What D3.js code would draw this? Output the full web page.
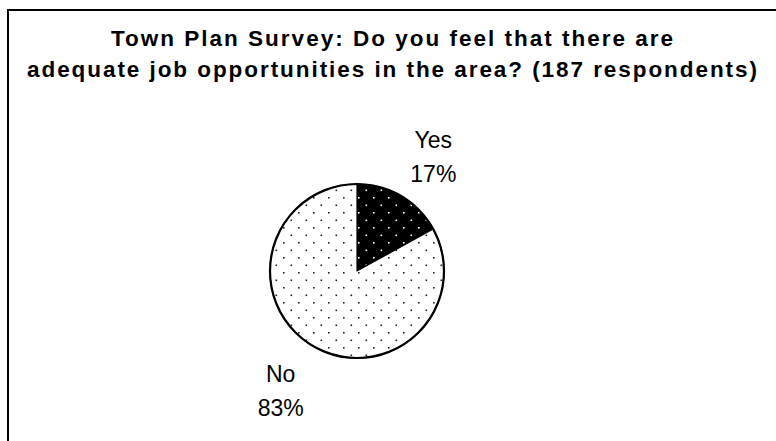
<!DOCTYPE html>
<html>
<head>
<meta charset="utf-8">
<script src="https://cdn.jsdelivr.net/npm/d3@7/dist/d3.min.js"></script>
<style>
  html, body { margin: 0; padding: 0; background: #fff; }
  svg { display: block; }
  text { font-family: "Liberation Sans", Arial, sans-serif; fill: #000; }
</style>
</head>
<body>
<script>
// Survey answers and their shares (percent of 187 respondents)
const categories = ["Yes", "No"];
const shares = [17, 83];
const titleLines = [
  "Town Plan Survey: Do you feel that there are",
  "adequate job opportunities in the area? (187 respondents)"
];

const W = 776, H = 441;
const svg = d3.select("body").append("svg")
  .attr("width", W).attr("height", H);

// Dotted fills: white dots on black for "Yes", dark dots on white for "No"
const defs = svg.append("defs");
function dotPattern(id, bg, dot) {
  const p = defs.append("pattern")
    .attr("id", id)
    .attr("patternUnits", "userSpaceOnUse")
    .attr("width", 15).attr("height", 15);
  p.append("rect").attr("width", 15).attr("height", 15).attr("fill", bg);
  p.append("rect").attr("x", 1).attr("y", 1).attr("width", 1.6).attr("height", 1.6).attr("fill", dot);
  p.append("rect").attr("x", 8.5).attr("y", 8.5).attr("width", 1.6).attr("height", 1.6).attr("fill", dot);
}
dotPattern("dotsDark", "#000", "#fff");
dotPattern("dotsLight", "#fff", "#222");
const fills = ["url(#dotsDark)", "url(#dotsLight)"];

// Chart frame
svg.append("rect")
  .attr("x", 8).attr("y", 10)
  .attr("width", W + 20).attr("height", H + 20)
  .attr("fill", "#fff")
  .attr("stroke", "#000").attr("stroke-width", 2);

// Title, spread to its line widths
const titleWidths = [562, 730];
const title = svg.append("text")
  .attr("text-anchor", "middle")
  .attr("font-weight", "bold")
  .attr("font-size", 22.5);
titleLines.forEach((t, i) => {
  title.append("tspan")
    .attr("x", 392)
    .attr("y", 46 + i * 31)
    .attr("textLength", titleWidths[i])
    .attr("lengthAdjust", "spacing")
    .text(t);
});

// Pie
const cx = 357, cy = 271, r = 87;
const data = categories.map((c, i) => ({ label: c, value: shares[i] }));
const pie = d3.pie().value(d => d.value).sort(null);
const arc = d3.arc().innerRadius(0).outerRadius(r);
const arcs = pie(data);

const g = svg.append("g").attr("transform", `translate(${cx},${cy})`);
g.selectAll("path.slice")
  .data(arcs)
  .join("path")
  .attr("class", "slice")
  .attr("d", arc)
  .attr("fill", (d, i) => fills[i])
  .attr("stroke", "#000")
  .attr("stroke-width", 1.2)
  .attr("stroke-linejoin", "round");

// Outer rim
g.append("circle")
  .attr("r", r)
  .attr("fill", "none")
  .attr("stroke", "#000")
  .attr("stroke-width", 2.2);

// Labels placed on an ellipse around the pie, at each slice's mid-angle
const lrx = 150, lry = 136, lineGap = 34, fs = 23;
arcs.forEach(d => {
  const a = (d.startAngle + d.endAngle) / 2;
  const x = lrx * Math.sin(a);
  const y = -lry * Math.cos(a) + 3;
  const t = g.append("text")
    .attr("text-anchor", "middle")
    .attr("font-size", fs);
  // two-line block vertically centred on (x, y)
  const capH = fs * 0.716;
  const firstBase = y - (lineGap + capH) / 2 + capH;
  t.append("tspan").attr("x", x).attr("y", firstBase).text(d.data.label);
  t.append("tspan").attr("x", x).attr("y", firstBase + lineGap)
    .text(Math.round(d.data.value) + "%");
});
</script>
</body>
</html>
